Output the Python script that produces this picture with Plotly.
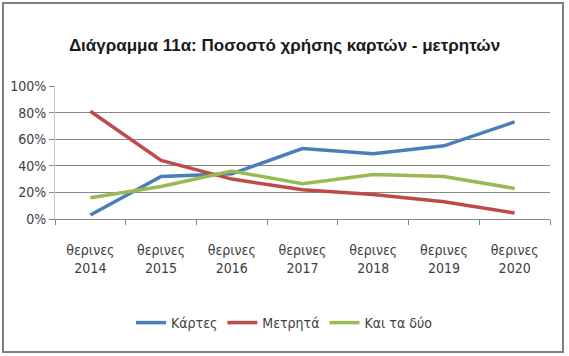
import plotly.graph_objects as go

categories = ["θερινες<br>2014", "θερινες<br>2015", "θερινες<br>2016", "θερινες<br>2017",
              "θερινες<br>2018", "θερινες<br>2019", "θερινες<br>2020"]
cards = [0.03, 0.32, 0.34, 0.53, 0.49, 0.55, 0.73]
cash = [0.81, 0.44, 0.30, 0.22, 0.185, 0.13, 0.045]
both = [0.16, 0.245, 0.36, 0.265, 0.335, 0.32, 0.23]

FONT = "DejaVu Sans Condensed, Liberation Sans, Arial, sans-serif"
TFONT = "Liberation Sans, Arial, sans-serif"

W, H = 569, 356
L, R, T, B = 55, 19, 86, 137
PW, PH = W - L - R, H - T - B

fig = go.Figure()
for name, vals, col in [("Κάρτες", cards, "#4a7ebb"),
                        ("Μετρητά", cash, "#be4b48"),
                        ("Και τα δύο", both, "#98b954")]:
    fig.add_trace(go.Scatter(x=categories, y=vals, name=name, mode="lines",
                             line=dict(color=col, width=3.5)))

fig.update_layout(
    width=W, height=H,
    margin=dict(l=L, r=R, t=T, b=B, autoexpand=False),
    paper_bgcolor="white", plot_bgcolor="white",
    font=dict(family=FONT, size=13, color="#404040"),
    title=dict(text="<b>Διάγραμμα 11α: Ποσοστό χρήσης καρτών - μετρητών</b>",
               x=0.5, xanchor="center", xref="container", y=1 - 45 / H, yanchor="middle",
               yref="container",
               font=dict(family=TFONT, size=17, color="#1a1a1a")),
    showlegend=True,
    legend=dict(orientation="h", x=0.5, xanchor="center", xref="container",
                y=1 - 323 / H, yanchor="middle", yref="container",
                font=dict(family=FONT, size=14, color="#404040"),
                itemwidth=30, traceorder="normal"),
    xaxis=dict(range=[-0.5, 6.5], showline=True, linecolor="#868686", linewidth=1,
               ticks="outside", ticklen=5, tickcolor="#868686",
               tickson="boundaries", showgrid=False, automargin=False,
               ticklabelstandoff=18,
               tickfont=dict(family=FONT, size=14, color="#404040")),
    yaxis=dict(range=[0, 1.0], dtick=0.2, tickformat=".0%",
               showgrid=True, gridcolor="#868686", gridwidth=1,
               ticks="outside", ticklen=5, tickcolor="#868686",
               zeroline=False, showline=True, linecolor="#c8c8c8", linewidth=1,
               automargin=False,
               tickfont=dict(family=FONT, size=14, color="#404040")),
    shapes=[dict(type="rect", xref="paper", yref="paper",
                 x0=-(L - 3) / PW, x1=1 + (R - 6) / PW,
                 y0=-(B - 4) / PH, y1=1 + (T - 3) / PH,
                 line=dict(color="#7f7f7f", width=2))],
)

fig.write_html("out.html", config={"displayModeBar": False},
               post_script="document.body.style.margin='0';")
